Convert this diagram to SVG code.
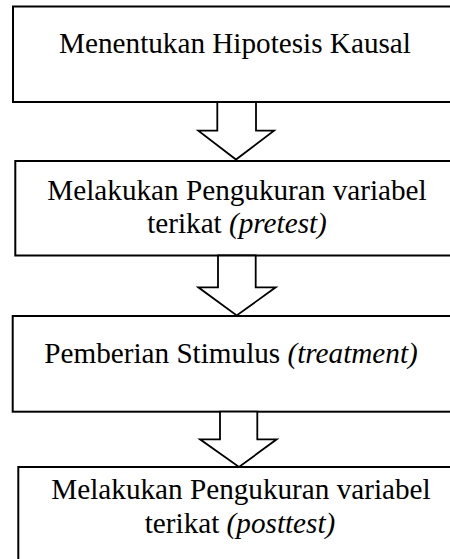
<svg xmlns="http://www.w3.org/2000/svg" width="450" height="559" viewBox="0 0 450 559">
<style>
.box{fill:#fff;stroke:#000;stroke-width:2}
.arr{fill:#fff;stroke:#000;stroke-width:1.8;stroke-linejoin:miter}
.t{font-size:29.2px;fill:#000;text-anchor:middle}
.it{font-style:italic}
</style>
<rect width="450" height="559" fill="#fff"/>
<g font-family="'Liberation Serif', 'Times New Roman', 'DejaVu Serif', serif">
<g id="node1">
<rect class="box" x="13" y="6.5" width="460" height="95.5"/>
<text class="t" x="235" y="53.3">Menentukan Hipotesis Kausal</text>
</g>
<g id="node2">
<rect class="box" x="15.3" y="161" width="460" height="94.5"/>
<text class="t" x="237" y="200">Melakukan Pengukuran variabel</text>
<text class="t" x="237" y="233">terikat <tspan class="it">(pretest)</tspan></text>
</g>
<g id="node3">
<rect class="box" x="12.7" y="316" width="460" height="95.7"/>
<text class="t" x="231" y="363.3">Pemberian Stimulus <tspan class="it">(treatment)</tspan></text>
</g>
<g id="node4">
<rect class="box" x="18.3" y="467" width="460" height="110"/>
<text class="t" x="241" y="499">Melakukan Pengukuran variabel</text>
<text class="t" x="240" y="533">terikat <tspan class="it">(posttest)</tspan></text>
</g>
</g>
<g id="connectors">
<polygon class="arr" points="217.3,102 256,102 256,130.7 274,130.7 236,159.5 198.3,130.7 217.3,130.7"/>
<polygon class="arr" points="218,255.5 255.7,255.5 255.7,287.3 275.7,287.3 236.7,315.5 198.3,287.3 218,287.3"/>
<polygon class="arr" points="220,411.7 257.3,411.7 257.3,439.3 276.7,439.3 239,467 200,439.3 220,439.3"/>
</g>
</svg>
